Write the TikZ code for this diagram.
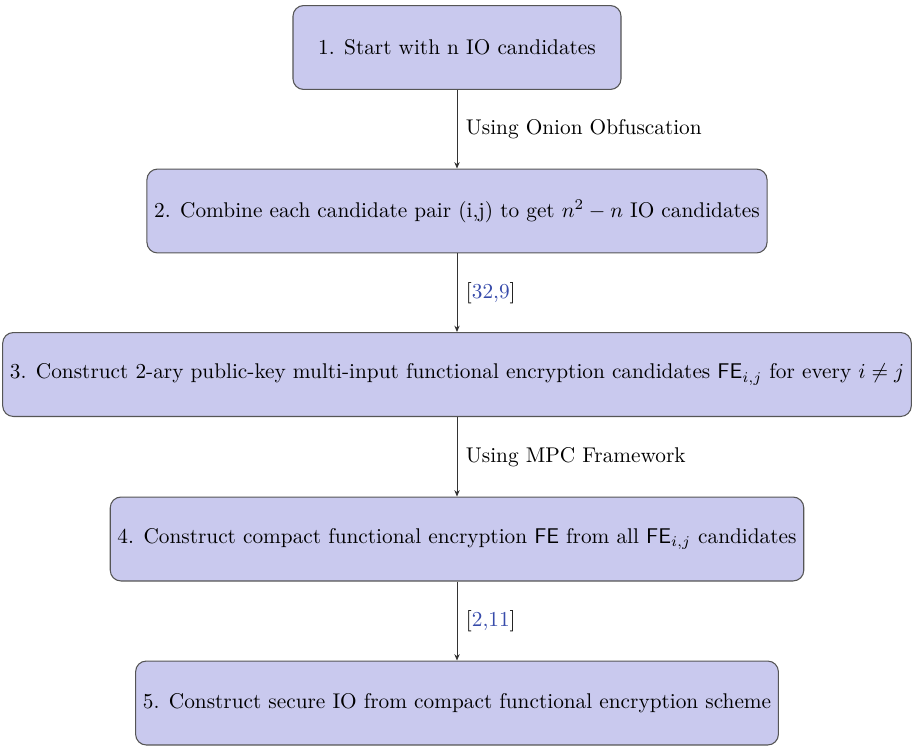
\documentclass[tikz,border=0pt]{standalone}
\usepackage{amsmath}
\usetikzlibrary{arrows.meta}
\definecolor{boxfill}{RGB}{201,201,238}
\definecolor{boxline}{RGB}{85,85,85}
\definecolor{citeblue}{RGB}{55,75,170}
\tikzset{
  stepbox/.style={draw=boxline, fill=boxfill, rounded corners=5pt, line width=0.5pt,
    minimum height=39.4pt, inner sep=3.4pt, align=center},
  flow/.style={-{Stealth[length=3pt,width=2.5pt]}, line width=0.4pt, draw=black!80},
  lab/.style={anchor=west, inner sep=2pt, xshift=2pt, text=black}
}
\newcommand{\refcite}[1]{[{\color{citeblue}#1}]}
\begin{document}
\begin{tikzpicture}[x=0.4695pt,y=-0.4695pt]
\useasboundingbox (0,0) rectangle (912,745);
\node[stepbox, minimum width=154pt] (s1) at (457,47.5) {1. Start with n IO candidates};
\node[stepbox] (s2) at (457,211) {2. Combine each candidate pair (i,j) to get $n^2-n$ IO candidates};
\node[stepbox] (s3) at (457,374.5) {3. Construct 2-ary public-key multi-input functional encryption candidates $\mathsf{FE}_{i,j}$ for every $i\neq j$};
\node[stepbox] (s4) at (457,539) {4. Construct compact functional encryption $\mathsf{FE}$ from all $\mathsf{FE}_{i,j}$ candidates};
\node[stepbox] (s5) at (457,703) {5. Construct secure IO from compact functional encryption scheme};
\draw[flow] (s1) -- node[lab] {Using Onion Obfuscation} (s2);
\draw[flow] (s2) -- node[lab] {\refcite{32,9}} (s3);
\draw[flow] (s3) -- node[lab] {Using MPC Framework} (s4);
\draw[flow] (s4) -- node[lab] {\refcite{2,11}} (s5);
\end{tikzpicture}
\end{document}
